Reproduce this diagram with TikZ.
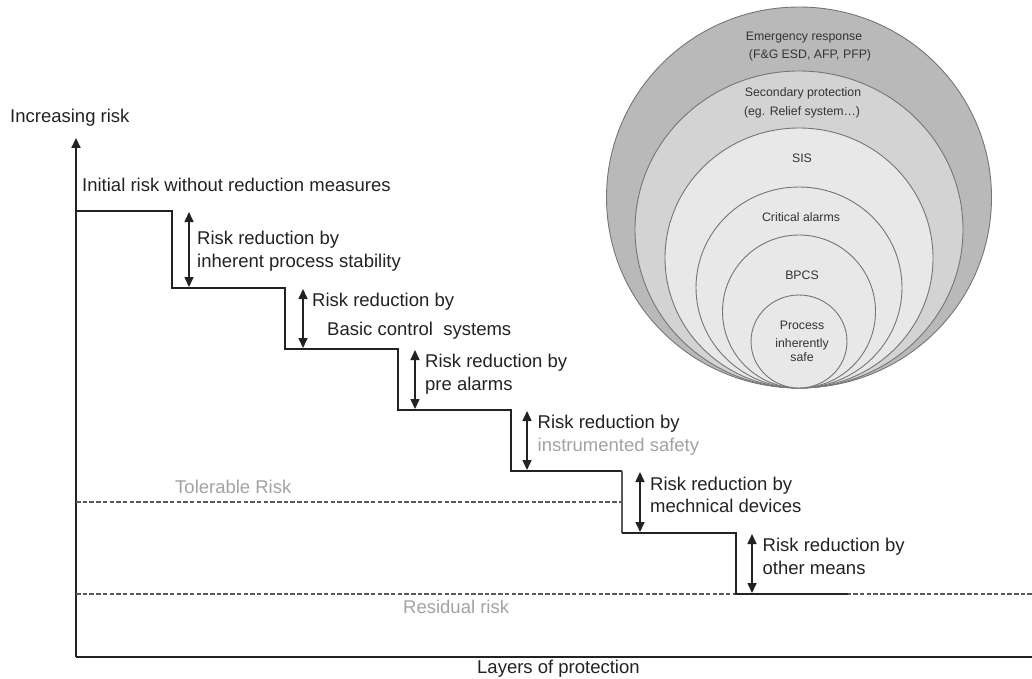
\documentclass[tikz,border=0pt]{standalone}
\usepackage{fontspec}
\setmainfont{Liberation Sans}
\usetikzlibrary{arrows.meta}

\definecolor{ink}{HTML}{222222}
\definecolor{softgray}{HTML}{A2A2A2}
\definecolor{dashgray}{HTML}{5A5A5A}
\definecolor{ringline}{HTML}{757575}
\definecolor{ringA}{HTML}{B9B9B9}
\definecolor{ringB}{HTML}{D3D3D3}
\definecolor{ringC}{HTML}{E8E8E8}
\definecolor{ringtext}{HTML}{333333}

\tikzset{
  axisline/.style={draw=ink, line width=2pt},
  stairline/.style={draw=ink, line width=2pt, line join=miter},
  levelline/.style={draw=dashgray, line width=1.2pt, dash pattern=on 4.5pt off 2.2pt},
  reduction/.style={draw=ink, line width=1.6pt,
    {Triangle[length=10pt,width=9pt]}-{Triangle[length=10pt,width=9pt]}},
  lbl/.style={anchor=base west, inner sep=0pt, text=ink, font=\fontsize{18.5}{22}\selectfont},
  graylbl/.style={lbl, text=softgray},
  ring/.style={draw=ringline, line width=0.9pt},
  ringlbl/.style={anchor=base, inner sep=0pt, text=ringtext, font=\fontsize{12.3}{14}\selectfont}
}

\begin{document}
\begin{tikzpicture}[x=1pt, y=-1pt]
\useasboundingbox (0,0) rectangle (1032,679);

% ---- nested layers of protection ----
\path[ring, fill=ringA] (799,197.5) ellipse [x radius=192.5pt, y radius=190.5pt];
\path[ring, fill=ringB] (799,229.5) ellipse [x radius=164pt, y radius=158.5pt];
\path[ring, fill=ringC] (799,258)   ellipse [x radius=134pt, y radius=130pt];
\path[ring, fill=ringC] (799,287.5) ellipse [x radius=103pt, y radius=100.5pt];
\path[ring, fill=ringC] (799,311.5) ellipse [x radius=76.5pt, y radius=76.5pt];
\path[ring, fill=ringC] (799,341.5) ellipse [x radius=48pt, y radius=46.5pt];

\node[ringlbl] (er1) at (804,40.5)  {Emergency response};
\node[ringlbl] (er2) at (810,59)    {(F\&G ESD, AFP, PFP)};
\node[ringlbl] (sp1) at (803,96.5)  {Secondary protection};
\node[ringlbl] (sp2) at (802,115.5) {(eg. Relief system…)};
\node[ringlbl] (sis) at (802,163)   {SIS};
\node[ringlbl] (cra) at (801,221.5) {Critical alarms};
\node[ringlbl] (bpc) at (802,279)   {BPCS};
\node[ringlbl] (pr1) at (802,329)   {Process};
\node[ringlbl] (pr2) at (802,347.5) {inherently};
\node[ringlbl] (pr3) at (802,361.5) {safe};

% ---- axes ----
\coordinate (origin) at (76,656.5);
\coordinate (ytop)   at (76,138);
\coordinate (xend)   at (1032,656.5);
\draw[axisline, -{Triangle[length=10pt,width=9pt]}] (origin) -- (ytop);
\draw[axisline] (origin) -- (xend);

\node[lbl] (yl) at (10,122.7) {Increasing risk};
\node[lbl] (xl) at (477,673)  {Layers of protection};

% ---- tolerable and residual levels ----
\coordinate (tolL) at (76,502);
\coordinate (tolR) at (622,502);
\coordinate (resL) at (76,594);
\coordinate (resR) at (1032,594);
\draw[levelline] (tolL) -- (tolR);
\draw[levelline] (resL) -- (resR);
\node[graylbl] (tol) at (175,493.3) {Tolerable Risk};
\node[graylbl] (res) at (403,613)   {Residual risk};

% ---- staircase of risk ----
\coordinate (s0) at (76,211);
\coordinate (s1) at (172,211);
\coordinate (s2) at (172,288);
\coordinate (s3) at (285,288);
\coordinate (s4) at (285,349);
\coordinate (s5) at (398,349);
\coordinate (s6) at (398,410);
\coordinate (s7) at (511,410);
\coordinate (s8) at (511,471);
\coordinate (s9) at (622,471);
\coordinate (s10) at (622,533);
\coordinate (s11) at (736,533);
\coordinate (s12) at (736,594);
\coordinate (s13) at (848,594);
\draw[stairline] (s0) -- (s1) -- (s2) -- (s3) -- (s4) -- (s5) -- (s6) -- (s7) -- (s8) -- (s9);
\draw[draw=ink!75, line width=1.3pt] (s9) -- (s10);
\draw[stairline] (s10) -- (s11) -- (s12) -- (s13);

\node[lbl] (init) at (82,191.7) {Initial risk without reduction measures};

% ---- reduction arrows and labels ----
\coordinate (a1t) at (189,212); \coordinate (a1b) at (189,287);
\coordinate (a2t) at (303,289); \coordinate (a2b) at (303,348);
\coordinate (a3t) at (415,350); \coordinate (a3b) at (415,409);
\coordinate (a4t) at (527,411); \coordinate (a4b) at (527,470);
\coordinate (a5t) at (640,472); \coordinate (a5b) at (640,532);
\coordinate (a6t) at (752,534); \coordinate (a6b) at (752,593);
\draw[reduction] (a1t) -- (a1b);
\draw[reduction] (a2t) -- (a2b);
\draw[reduction] (a3t) -- (a3b);
\draw[reduction] (a4t) -- (a4b);
\draw[reduction] (a5t) -- (a5b);
\draw[reduction] (a6t) -- (a6b);

\node[lbl] (r1a) at (197,244)   {Risk reduction by};
\node[lbl] (r1b) at (197,267.7) {inherent process stability};
\node[lbl] (r2a) at (312,306)   {Risk reduction by};
\node[lbl] (r2b) at (327,335.7) {Basic control\ \ systems};
\node[lbl] (r3a) at (425,367.3) {Risk reduction by};
\node[lbl] (r3b) at (425,390)   {pre alarms};
\node[lbl] (r4a) at (537.5,428.3) {Risk reduction by};
\node[graylbl] (r4b) at (537.5,451.7) {instrumented safety};
\node[lbl] (r5a) at (650,490)   {Risk reduction by};
\node[lbl] (r5b) at (650,512.7) {mechnical devices};
\node[lbl] (r6a) at (762.5,551.7) {Risk reduction by};
\node[lbl] (r6b) at (762.5,574) {other means};
\end{tikzpicture}
\end{document}
